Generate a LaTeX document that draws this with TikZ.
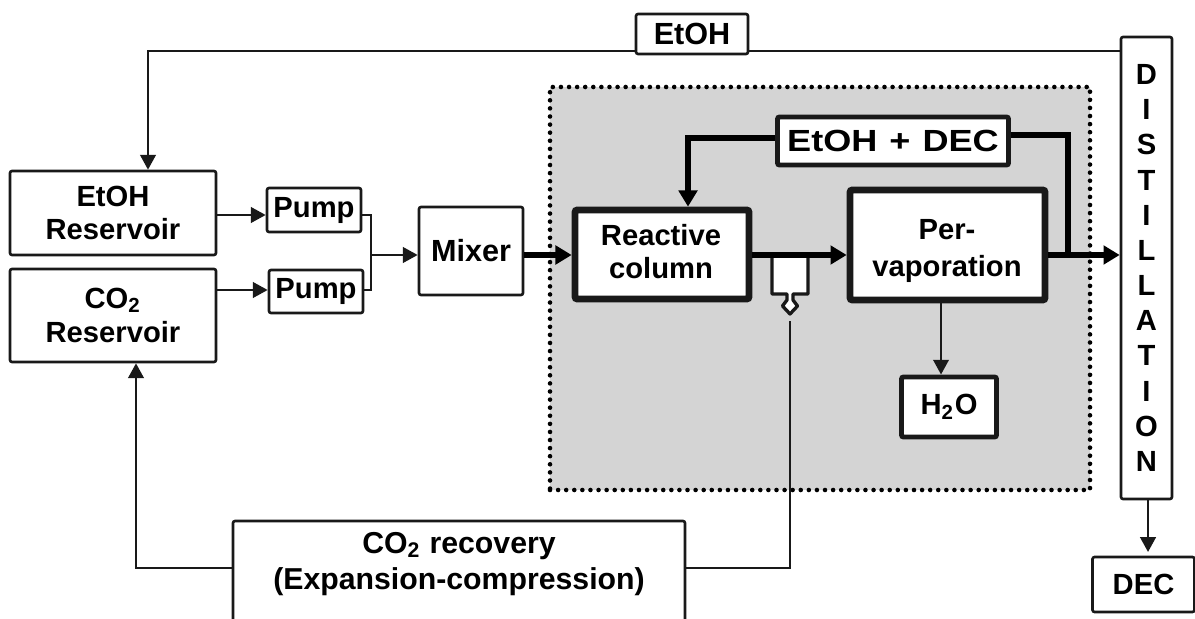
\documentclass[tikz,border=0pt]{standalone}
\usepackage{fontspec}
\setmainfont{Liberation Sans}
\usetikzlibrary{arrows.meta}
\newcommand{\ftxt}{\fontsize{8.3}{10}\selectfont\bfseries}
\tikzset{
  x=0.01cm,y=-0.01cm,
  box/.style={draw=black!90,fill=white,line width=0.75pt,rounded corners=0.6pt,inner sep=0pt,align=center,font=\ftxt},
  thick box/.style={box,line width=1.9pt},
  medium box/.style={box,line width=1.4pt},
  plain text/.style={font=\ftxt,align=center,inner sep=0pt},
  thin wire/.style={draw=black!90,line width=0.7pt},
  thin line/.style={thin wire,-{Triangle[length=4.2pt,width=4.4pt]}},
  thick wire/.style={draw=black,line width=1.45pt},
  thick line/.style={thick wire,-{Triangle[length=4.6pt,width=5.2pt]}},
}
\newcommand{\bx}[6][box]{\node[#1,minimum width=#4*0.01cm,minimum height=#5*0.01cm] (#2) at (#3) {#6};}
\begin{document}
\begin{tikzpicture}
\useasboundingbox (0,0) rectangle (1195,619);
\clip (0,0) rectangle (1195,619);
\node[draw=black,line cap=round,dash pattern=on 0pt off 2.3pt,line width=1.3pt,fill=black!17,minimum width=540*0.01cm,minimum height=403*0.01cm,inner sep=0pt] (zone) at (820,288.5) {};
\bx{etohtop}{692,34}{112}{40}{\fontsize{8.7}{10}\selectfont EtOH}
\bx{dist}{1146.5,268}{51}{462}{D\\I\\S\\T\\I\\L\\L\\A\\T\\I\\O\\N}
\bx{etohres}{113,213}{206}{84}{EtOH\\[-0.4pt]Reservoir}
\bx{cores}{113,315.5}{206}{93}{CO\textsubscript{2}\\[-0.2pt]Reservoir}
\bx{pumpa}{314,210}{94}{44}{Pump}
\bx{pumpb}{316,291.5}{94}{43}{Pump}
\bx{mixer}{471,251}{104}{88}{\raisebox{-1.4pt}{\fontsize{8.7}{10}\selectfont Mixer}}
\bx[thick box]{rc}{662,254.5}{174}{89}{}
\node[plain text] (rctext) at (661,251.5) {Reactive\\[-0.5pt]column};
\bx[thick box]{pv}{947.5,245}{195}{110}{}
\node[plain text] (pvtext) at (947,251) {Per-\\[0.4pt]vaporation};
\bx[medium box]{ed}{893,141}{231}{48}{\scalebox{1.18}[1]{\fontsize{8.7}{10}\selectfont EtOH\,\,+\,\,DEC}}
\bx[medium box]{water}{949,407}{95}{60}{H\textsubscript{2}O}
\bx{rec}{459,590}{452}{138}{}
\node[plain text,font=\fontsize{8.6}{10.4}\selectfont\bfseries] (rectext) at (459,564) {CO\textsubscript{2} recovery\\(Expansion-compression)};
\bx{dec}{1143.5,584.5}{102}{55}{DEC}
% valve
\coordinate (va) at (772,256);
\coordinate (vb) at (808,256);
\coordinate (vs) at (790,321);
\draw[draw=black!90,line width=0.95pt,fill=white,line join=round] (va) -- (772,294) -- (787,294) -- (787,300) -- (782.5,306) -- (790,314) -- (797.5,306) -- (793,300) -- (793,294) -- (808,294) -- (vb);
% connectors
\draw[thin line] (etohtop.west |- 0,51) -- (148,51) -- (etohres.north -| 148,0);
\draw[thin wire] (etohtop.east |- 0,51) -- (dist.west |- 0,51);
\draw[thin line] (etohres.east |- 0,215) -- (pumpa.west |- 0,215);
\draw[thin line] (cores.east |- 0,290) -- (pumpb.west |- 0,290);
\draw[thin wire] (pumpa.east |- 0,215) -- (371,215) -- (371,290) -- (pumpb.east |- 0,290);
\coordinate (mj) at (371,255);
\draw[thin line] (mj) -- (mixer.west |- mj);
\draw[thick line] (mixer.east |- mj) -- (rc.west |- mj);
\draw[thick line] (rc.east |- mj) -- (pv.west |- mj);
\draw[thick line] (pv.east |- mj) -- (dist.west |- mj);
\coordinate (tap) at (1068,255);
\draw[thick wire] (tap) -- (1068,135) -- (ed.east |- 0,135);
\draw[thick line] (ed.west |- 0,138) -- (688,138) -- (rc.north -| 688,0);
\draw[thin line] (pv.south -| 941,0) -- (water.north -| 941,0);
\draw[thin line] (dist.south -| 1148,0) -- (1148,552);
\draw[thin line] (rec.west |- 0,568) -- (136,568) -- (cores.south -| 136,0);
\draw[thin wire] (rec.east |- 0,568) -- (790,568) -- (vs);
\end{tikzpicture}
\end{document}
